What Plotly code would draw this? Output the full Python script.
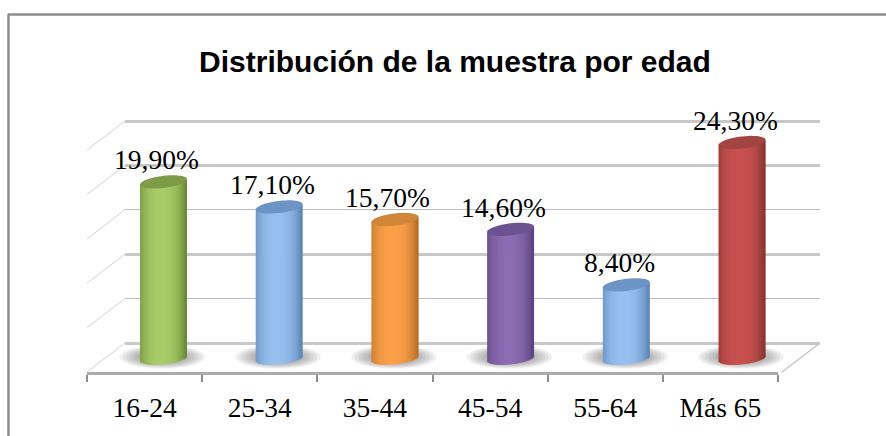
import math
import plotly.graph_objects as go

W, H = 886, 436
categories = ["16-24", "25-34", "35-44", "45-54", "55-64", "Más 65"]
values = [19.9, 17.1, 15.7, 14.6, 8.4, 24.3]
center_colors = ["#A9CC68", "#97C0F0", "#FBA048", "#8C6CB2", "#97C0F0", "#C85150"]
edge_colors = ["#6C8A38", "#5E86B6", "#B9702A", "#5C4480", "#5E86B6", "#8A3634"]
top_colors = ["#7E9C48", "#6C94C4", "#D08538", "#6B5291", "#6C94C4", "#A24442"]
title_text = "Distribución de la muestra por edad"
thick_grid = [0, 10, 20, 25]
thin_grid = [5, 15]

FONT_SERIF = "Liberation Serif"
FONT_SANS = "Liberation Sans"
GRID = "#C8C8C8"
AXIS = "#ABABAB"


def fx(px):
    return px / W


def fy(py):
    return 1 - py / H


def rgb(c):
    return [int(c[i:i + 2], 16) for i in (1, 3, 5)]


def mix(a, b, f):
    pa, pb = rgb(a), rgb(b)
    return "rgb(%d,%d,%d)" % tuple(round(x + (y - x) * f) for x, y in zip(pa, pb))


fig = go.Figure()

fig.add_trace(go.Scatter(x=[0], y=[0], xaxis="x", yaxis="y", mode="none", hoverinfo="skip", showlegend=False))
fig.add_trace(go.Scatter(x=categories, y=[0] * 6, xaxis="x2", yaxis="y2", mode="none", hoverinfo="skip", showlegend=False))

half = 0.203
cap_b = 0.68
shear = 0.30
N = 30
for k in range(N):
    t = -1 + (2 * k + 1) / N
    light = max(0.0, 1 - (abs(t + 0.1) / 1.05) ** 2.4)
    base = -cap_b * math.sqrt(max(0.0, 1 - t * t)) + shear * t + 0.2
    top = shear * t
    fig.add_trace(go.Bar(
        x=list(range(6)),
        y=[v + top - base for v in values],
        base=[base] * 6,
        width=2 * half / N * (1.6 if k < N - 1 else 1.0),
        offset=half * t - half / N,
        marker=dict(color=[mix(e, c, light) for e, c in zip(edge_colors, center_colors)], line_width=0),
        xaxis="x3", yaxis="y3", hoverinfo="skip", showlegend=False,
    ))


def ellipse_path(cx, cy, a, b, s):
    pts = []
    for i in range(48):
        th = 2 * math.pi * i / 48
        dx = math.cos(th)
        pts.append((cx + a * dx, cy + b * math.sin(th) + s * dx))
    return "M " + " L ".join(f"{x:.4f},{y:.4f}" for x, y in pts) + " Z"


shapes = []
shapes.append(dict(type="line", xref="paper", yref="paper", x0=fx(8), x1=1, y0=fy(14.5), y1=fy(14.5),
                   line=dict(color="#8E8E8E", width=2.5), layer="below"))
shapes.append(dict(type="line", xref="paper", yref="paper", x0=fx(8.5), x1=fx(8.5), y0=fy(14), y1=0,
                   line=dict(color="#8E8E8E", width=2.5), layer="below"))
for g in sorted(thick_grid + thin_grid):
    wall_y = 121 + (25 - g) * 8.88
    shapes.append(dict(type="line", xref="paper", yref="paper",
                       x0=fx(87), y0=fy(wall_y + 29), x1=fx(125), y1=fy(wall_y),
                       line=dict(color="#D2D2D2", width=1), layer="below"))
shapes.append(dict(type="line", xref="paper", yref="paper", x0=fx(782), y0=fy(372), x1=fx(820), y1=fy(343),
                   line=dict(color="#C4C4C4", width=1.5), layer="below"))
for i in range(6):
    for r in [1.0, 0.92, 0.84, 0.76, 0.68, 0.6, 0.52, 0.44]:
        shapes.append(dict(type="path", xref="x3", yref="y3", layer="below",
                           path=ellipse_path(i - 0.01, 0.35, 0.37 * r, 1.3 * r, 0.0),
                           fillcolor="rgba(85,85,85,0.09)", line_width=0))
for i, v in enumerate(values):
    shapes.append(dict(type="path", xref="x3", yref="y3", layer="above",
                       path=ellipse_path(i, v, half, cap_b, shear),
                       fillcolor=top_colors[i], line_width=0))

annotations = []
for i, v in enumerate(values):
    annotations.append(dict(x=i, y=v, xref="x3", yref="y3", text=f"{v:.2f}".replace(".", ",") + "%",
                            showarrow=False, xshift=-7, yshift=22,
                            font=dict(family=FONT_SERIF, size=27.5, color="#000000")))

fig.update_layout(
    width=W, height=H, autosize=False,
    margin=dict(l=0, r=0, t=0, b=0),
    paper_bgcolor="#FFFFFF", plot_bgcolor="rgba(0,0,0,0)",
    barmode="overlay", showlegend=False,
    title=dict(text=f"<b>{title_text}</b>", x=455 / W, xanchor="center", y=fy(61), yanchor="middle",
               font=dict(family=FONT_SANS, size=30, color="#000000")),
    shapes=shapes, annotations=annotations,
    xaxis=dict(domain=[fx(125), fx(820)], range=[0, 1], visible=False, anchor="y"),
    yaxis=dict(domain=[fy(345), fy(119)], range=[-2 / 8.88, 25 + 2 / 8.88], anchor="x", tickvals=thick_grid,
               showgrid=True, gridcolor=GRID, gridwidth=2.5, zeroline=False, showline=False,
               showticklabels=False, ticks="",
               minor=dict(tickvals=thin_grid, showgrid=True, gridcolor="#BDBDBD", gridwidth=1.2, ticks="")),
    xaxis2=dict(domain=[fx(87), fx(778)], type="category", categoryorder="array", categoryarray=categories,
                range=[-0.5, 5.5], anchor="y2", tickson="boundaries", ticks="outside", ticklen=7, tickwidth=1.5,
                tickcolor="#8E8E8E", showline=True, linecolor=AXIS, linewidth=2.5, showgrid=False, zeroline=False,
                ticklabelstandoff=9,
                tickfont=dict(family=FONT_SERIF, size=27.5, color="#000000")),
    yaxis2=dict(domain=[fy(372), fy(320)], range=[0, 1], visible=False, anchor="x2"),
    xaxis3=dict(domain=[fx(105.65), fx(799.85)], range=[-0.5, 5.5], visible=False, anchor="y3"),
    yaxis3=dict(domain=[fy(369), fy(127.3)], range=[-1, 26], visible=False, anchor="x3"),
)

fig.write_html("out.html", config={"displayModeBar": False},
               post_script="document.body.style.margin='0';document.body.style.overflow='hidden';")
